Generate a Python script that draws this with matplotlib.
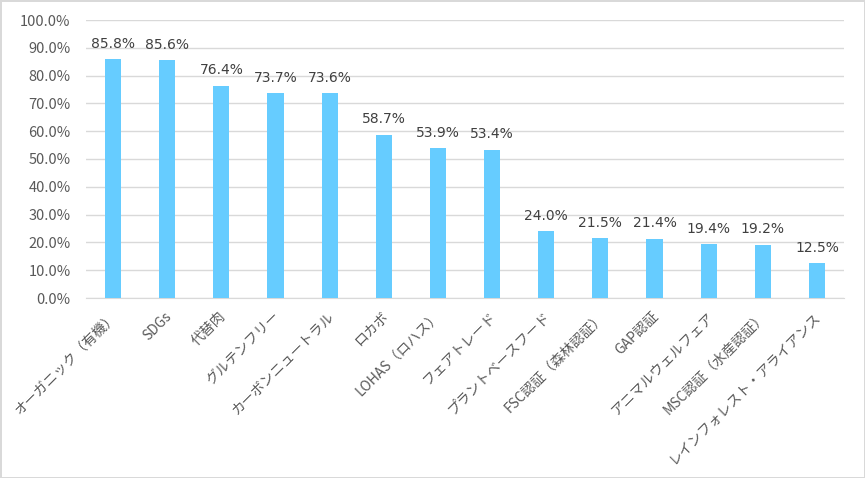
import numpy as np
import matplotlib.pyplot as plt
from matplotlib.ticker import PercentFormatter
from matplotlib.transforms import ScaledTranslation

plt.rcParams['font.family'] = ['Noto Sans CJK JP', 'DejaVu Sans']

categories = ['オーガニック（有機）', 'SDGs', '代替肉', 'グルテンフリー', 'カーボンニュートラル',
              'ロカボ', 'LOHAS（ロハス）', 'フェアトレード', 'プラントベースフード',
              'FSC認証（森林認証）', 'GAP認証', 'アニマルウェルフェア', 'MSC認証（水産認証）',
              'レインフォレスト・アライアンス']
values = [85.8, 85.6, 76.4, 73.7, 73.6, 58.7, 53.9, 53.4, 24.0, 21.5, 21.4, 19.4, 19.2, 12.5]

fig = plt.figure(figsize=(8.65, 4.78), dpi=100)
fig.patch.set_edgecolor('#d9d9d9')
fig.patch.set_linewidth(2)
ax = fig.add_axes([86 / 865, 1 - 298 / 478, 758 / 865, 278 / 478])

x = np.arange(len(categories))
ax.bar(x, values, width=0.3, color='#66ccff', zorder=3)
for xi, v in zip(x, values):
    ax.text(xi, v + 3, f'{v:.1f}%', ha='center', va='bottom', fontsize=10,
            color='#404040', family='DejaVu Sans')

ax.set_ylim(0, 100)
ax.set_xlim(-0.5, len(categories) - 0.5)
ax.set_yticks(np.arange(0, 101, 10))
ax.yaxis.set_major_formatter(PercentFormatter(decimals=1))
ax.grid(axis='y', color='#d9d9d9', linewidth=1, zorder=0)
for s in ['top', 'right', 'left']:
    ax.spines[s].set_visible(False)
ax.spines['bottom'].set_color('#d9d9d9')
ax.tick_params(axis='both', length=0, colors='#595959')
ax.tick_params(axis='y', labelsize=10.5, pad=11)
ax.set_xticks(x)
ax.set_xticklabels(categories, rotation=45, ha='right', va='top',
                   rotation_mode='anchor', fontsize=10, color='#595959')
ax.tick_params(axis='x', pad=8)
shift = ScaledTranslation(-0.03, 0, fig.dpi_scale_trans)
for lab in ax.get_xticklabels():
    lab.set_transform(lab.get_transform() + shift)

fig.savefig('out.png', dpi=100)
